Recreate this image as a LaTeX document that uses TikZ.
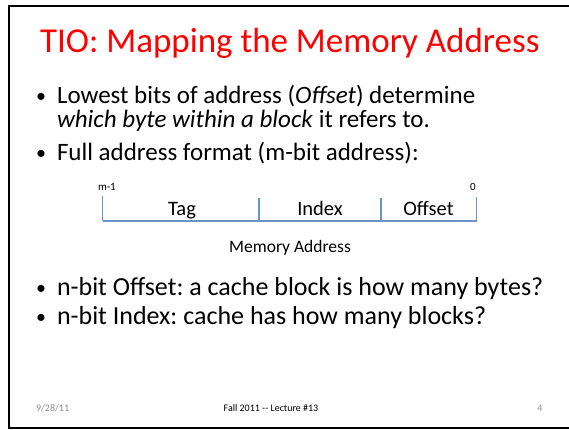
\documentclass[tikz,border=0pt]{standalone}
\usepackage{fontspec}
\setmainfont{Carlito}
\frenchspacing
\definecolor{titlered}{HTML}{FF0000}
\definecolor{fieldblue}{HTML}{6A93C6}
\definecolor{footgray}{HTML}{8C8C8C}
\tikzset{
  frameline/.style={line width=2pt, black},
  field/.style={draw=fieldblue, line width=1.3pt},
  txt/.style={anchor=base west, inner sep=0pt, outer sep=0pt},
  ctxt/.style={anchor=base, inner sep=0pt, outer sep=0pt},
  dot/.style={anchor=base west, inner sep=0pt, outer sep=0pt, font=\fontsize{20}{24}\selectfont},
}
\newcommand{\upperfont}{\fontsize{25}{30}\selectfont}
\newcommand{\lowerfont}{\fontsize{26}{31}\selectfont}
\newcommand{\fieldfont}{\fontsize{20.5}{24}\selectfont}
\newcommand{\footfont}{\fontsize{10}{12}\selectfont}
\begin{document}
\begin{tikzpicture}[x=1pt,y=-1pt]
\useasboundingbox (0,0) rectangle (569,429);
% slide frame (open on the right)
\draw[frameline] (569,6) -- (9,6) -- (9,428) -- (569,428);

% title
\node[txt, text=titlered] (title) at (40,52) {\fontsize{35}{40}\selectfont TIO: Mapping the Memory Address};

% bullets
\node[dot] (b1) at (36,102) {\textbullet};
\node[txt] (t1) at (57,103) {\upperfont Lowest bits of address (\textit{Offset}) determine};
\node[txt] (t1b) at (57,127) {\upperfont \textit{which byte within a block} it refers to.};
\node[dot] (b2) at (36,159) {\textbullet};
\node[txt] (t2) at (57,160) {\upperfont Full address format (m-bit address):};

% address fields
\coordinate (l) at (102.7,221);
\coordinate (d1) at (259,221);
\coordinate (d2) at (381,221);
\coordinate (r) at (476.7,221);
\draw[field] (l) -- (r);
\draw[field] (l) -- ++(0,-25);
\draw[field] (d1) -- ++(0,-23);
\draw[field] (d2) -- ++(0,-23);
\draw[field] (r) -- ++(0,-24);
\node[txt] (msb) at (98,190) {\fontsize{11}{13}\selectfont m-1};
\node[txt] (lsb) at (470,190) {\fontsize{11}{13}\selectfont 0};
\node[ctxt] (tag) at (182,215) {\fieldfont Tag};
\node[ctxt] (idx) at (320,215) {\fieldfont Index};
\node[ctxt] (off) at (428.5,215) {\fieldfont Offset};
\node[ctxt] (cap) at (290,252) {\fontsize{17.5}{21}\selectfont Memory Address};

\node[dot] (b3) at (36,294) {\textbullet};
\node[txt] (t3) at (57,295) {\lowerfont n-bit Offset: a cache block is how many bytes?};
\node[dot] (b4) at (36,323) {\textbullet};
\node[txt] (t4) at (57,324) {\lowerfont n-bit Index: cache has how many blocks?};

% footer
\node[txt, text=footgray] (date) at (36,411) {\footfont 9/28/11};
\node[ctxt] (course) at (271,411) {\footfont Fall 2011 -{}- Lecture \#13};
\node[ctxt, text=footgray] (page) at (540,411) {\footfont 4};
\end{tikzpicture}
\end{document}
